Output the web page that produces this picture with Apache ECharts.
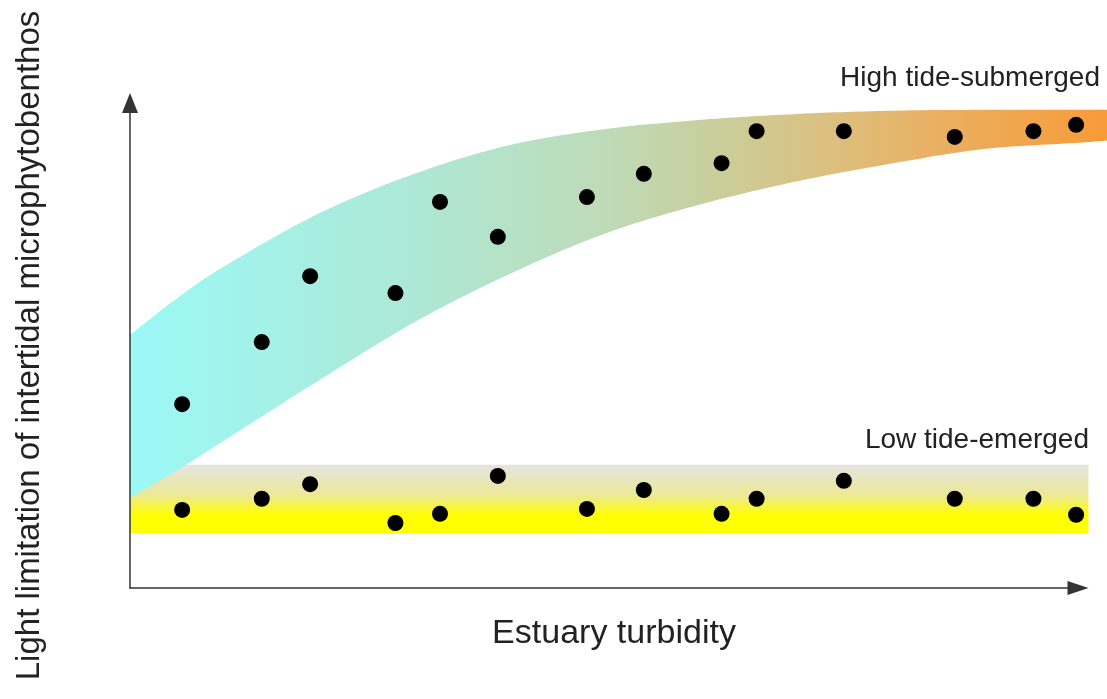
<!DOCTYPE html>
<html><head><meta charset="utf-8">
<script src="https://cdn.jsdelivr.net/npm/echarts@6/dist/echarts.min.js"></script>
<style>html,body{margin:0;padding:0;background:#fff}#c{width:1107px;height:699px}</style>
</head><body><div id="c"></div>
<script>
// ---- data ----
const bandX      = [0, 5, 10, 20, 30, 40, 50, 60, 70, 80, 90, 100, 104];
const highUpper  = [52.2, 59.8, 66.4, 77.3, 85.4, 91.3, 94.6, 96.5, 97.7, 98.4, 98.6, 98.6, 98.6];
const highLower  = [18.6, 24.3, 30.5, 42.9, 54.8, 64.7, 73.0, 79.0, 83.7, 87.4, 90.5, 91.8, 92.4];
const lowBandX   = [0, 101.1];
const lowBandY   = [11.3, 25.4];
const dotX       = [5.5, 13.9, 19.0, 28.0, 32.7, 38.8, 48.2, 54.2, 62.4, 66.1, 75.3, 87.0, 95.3, 99.8];
const highDots   = [37.9, 50.7, 64.3, 60.8, 79.6, 72.4, 80.6, 85.4, 87.6, 94.2, 94.2, 93.0, 94.2, 95.5];
const lowDots    = [16.1, 18.4, 21.4, 13.4, 15.3, 23.1, 16.3, 20.2, 15.3, 18.4, 22.1, 18.4, 18.4, 15.1];
const xName = 'Estuary turbidity';
const yName = 'Light limitation of intertidal microphytobenthos';
const highLabel = 'High tide-submerged';
const lowLabel = 'Low tide-emerged';

const FONT = '"Liberation Sans", Arial, sans-serif';

function catmull(pts, steps) {
  const out = [], n = pts.length;
  for (let i = 0; i < n - 1; i++) {
    const p0 = pts[Math.max(i - 1, 0)], p1 = pts[i], p2 = pts[i + 1], p3 = pts[Math.min(i + 2, n - 1)];
    for (let s = 0; s < steps; s++) {
      const t = s / steps, t2 = t * t, t3 = t2 * t;
      const f = k => 0.5 * ((2 * p1[k]) + (-p0[k] + p2[k]) * t + (2 * p0[k] - 5 * p1[k] + 4 * p2[k] - p3[k]) * t2 + (-p0[k] + 3 * p1[k] - 3 * p2[k] + p3[k]) * t3);
      out.push([f(0), f(1)]);
    }
  }
  out.push(pts[n - 1]);
  return out;
}

const highGrad = new echarts.graphic.LinearGradient(0, 0, 1, 0, [
  {offset: 0, color: '#9bf9f6'},
  {offset: 0.27, color: '#ace9d8'},
  {offset: 0.48, color: '#bedbb8'},
  {offset: 0.60, color: '#cacd9a'},
  {offset: 0.71, color: '#dcc07f'},
  {offset: 0.83, color: '#ebae5f'},
  {offset: 1, color: '#f89a36'}
]);
const lowGrad = new echarts.graphic.LinearGradient(0, 0, 0, 1, [
  {offset: 0, color: '#e4e4e0'},
  {offset: 0.45, color: '#ede995'},
  {offset: 0.74, color: '#ffff00'},
  {offset: 1, color: '#ffff00'}
]);

const chart = echarts.init(document.getElementById('c'), null, {renderer: 'canvas'});
chart.setOption({
  animation: false,
  backgroundColor: '#ffffff',
  grid: {left: 130, right: 29, top: 103, bottom: 111, containLabel: false, outerBoundsMode: 'none'},
  xAxis: {
    type: 'value', min: 0, max: 100, z: 5,
    name: xName, nameLocation: 'middle', nameGap: 29,
    nameTextStyle: {fontSize: 34, color: '#222', fontFamily: FONT, padding: [0, 0, 0, 20]},
    axisLine: {show: true, symbol: ['none', 'triangle'], symbolSize: [14, 21], lineStyle: {color: '#333', width: 1.5}},
    axisTick: {show: false}, axisLabel: {show: false}, splitLine: {show: false}
  },
  yAxis: {
    type: 'value', min: 0, max: 100, z: 5,
    name: yName, nameLocation: 'middle', nameGap: 84,
    nameTextStyle: {fontSize: 33, color: '#222', fontFamily: FONT},
    axisLine: {show: true, symbol: ['none', 'triangle'], symbolSize: [16, 20], lineStyle: {color: '#333', width: 1.5}},
    axisTick: {show: false}, axisLabel: {show: false}, splitLine: {show: false}
  },
  graphic: [
    {type: 'text', x: 1100, y: 78, z: 10, style: {text: highLabel, fontSize: 28, fontFamily: FONT, fill: '#222',
      align: 'right', textAlign: 'right', verticalAlign: 'middle', textVerticalAlign: 'middle'}},
    {type: 'text', x: 1089, y: 440, z: 10, style: {text: lowLabel, fontSize: 28, fontFamily: FONT, fill: '#222',
      align: 'right', textAlign: 'right', verticalAlign: 'middle', textVerticalAlign: 'middle'}}
  ],
  series: [
    {
      type: 'custom', name: 'Low band', silent: true, clip: false, z: 1,
      data: [[lowBandX[0], lowBandY[0]]],
      renderItem: function (params, api) {
        const p0 = api.coord([lowBandX[0], lowBandY[1]]);
        const p1 = api.coord([lowBandX[1], lowBandY[0]]);
        return {type: 'rect', shape: {x: p0[0], y: p0[1], width: p1[0] - p0[0], height: p1[1] - p0[1]}, style: {fill: lowGrad}};
      }
    },
    {
      type: 'custom', name: 'High band', silent: true, clip: false, z: 2,
      data: [[bandX[0], highLower[0]]],
      renderItem: function (params, api) {
        const up = bandX.map((x, i) => api.coord([x, highUpper[i]]));
        const lo = bandX.map((x, i) => api.coord([x, highLower[i]]));
        const pts = catmull(up, 16).concat(catmull(lo, 16).reverse());
        return {type: 'polygon', shape: {points: pts}, style: {fill: highGrad}};
      }
    },
    {
      type: 'scatter', name: 'High tide', z: 3, symbolSize: 16, itemStyle: {color: '#000', opacity: 1},
      data: dotX.map((x, i) => [x, highDots[i]])
    },
    {
      type: 'scatter', name: 'Low tide', z: 3, symbolSize: 16, itemStyle: {color: '#000', opacity: 1},
      data: dotX.map((x, i) => [x, lowDots[i]])
    }
  ]
});
</script></body></html>
